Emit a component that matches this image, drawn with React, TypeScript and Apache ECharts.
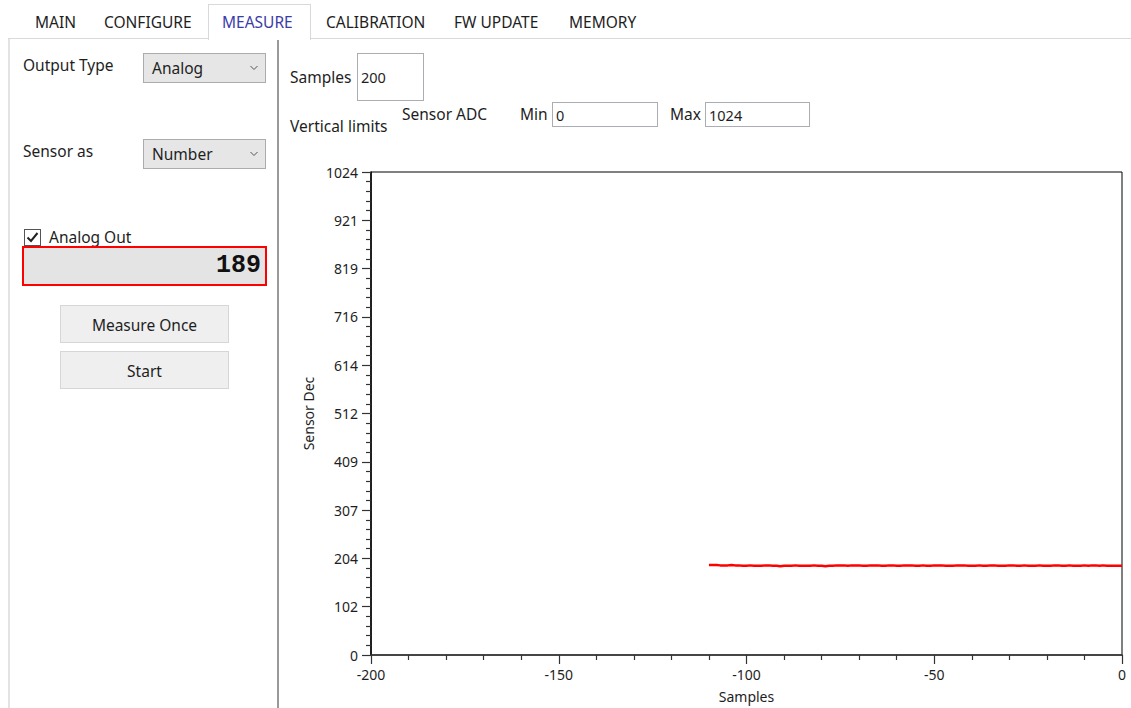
import React, { useEffect, useRef } from "react";
import * as echarts from "echarts";

// ---- data ----
const tabs = ["MAIN", "CONFIGURE", "MEASURE", "CALIBRATION", "FW UPDATE", "MEMORY"];
const activeTab = "MEASURE";
const xAxisMin = -200;
const xAxisMax = 0;
const xAxisStep = 50;
const yAxisMin = 0;
const yAxisMax = 1024;
const yAxisStep = 102.4;
const firstSample = -110;
const sensorValues = [
  191, 191, 191, 190, 190, 190, 191, 190, 190, 189,
  189, 190, 189, 189, 189, 190, 190, 189, 189, 188,
  189, 189, 189, 190, 189, 189, 189, 189, 190, 189,
  189, 188, 189, 189, 190, 190, 190, 189, 190, 190,
  190, 189, 189, 190, 190, 190, 189, 189, 190, 190,
  189, 189, 190, 190, 190, 189, 189, 190, 189, 189,
  190, 190, 190, 189, 189, 189, 190, 190, 190, 189,
  189, 189, 190, 189, 189, 190, 190, 189, 189, 189,
  190, 190, 189, 189, 190, 189, 189, 189, 190, 189,
  189, 189, 190, 190, 189, 189, 190, 189, 189, 189,
  190, 189, 190, 190, 189, 190, 189, 189, 189, 189, 189,
];
const currentValue = "189";
const samplesCount = "200";
const limitMin = "0";
const limitMax = "1024";

const FONT = "'Noto Sans', 'Open Sans', sans-serif";

const tabPos = [35, 104, 222, 326, 454, 569];

function Label(p: { x: number; y: number; text: string; size?: number; color?: string }) {
  return (
    <div
      style={{
        position: "absolute",
        left: p.x,
        top: p.y - 12,
        height: 24,
        lineHeight: "24px",
        fontSize: p.size ?? 15.5,
        color: p.color ?? "#1e1e1e",
        whiteSpace: "nowrap",
        fontFamily: FONT,
      }}
    >
      {p.text}
    </div>
  );
}

function Box(p: { x: number; y: number; w: number; h: number; style?: any; children?: any }) {
  return (
    <div
      style={{
        position: "absolute",
        left: p.x,
        top: p.y,
        width: p.w,
        height: p.h,
        boxSizing: "border-box",
        fontFamily: FONT,
        ...p.style,
      }}
    >
      {p.children}
    </div>
  );
}

function Combo(p: { x: number; y: number; text: string }) {
  return (
    <Box x={p.x} y={p.y} w={123} h={30} style={{ background: "#e6e6e6", border: "1px solid #acacac" }}>
      <div style={{ position: "absolute", left: 8, top: 2, lineHeight: "24px", fontSize: 15.5, color: "#1e1e1e" }}>{p.text}</div>
      <svg style={{ position: "absolute", right: 7, top: 11 }} width="8" height="6">
        <polyline points="0.5,1 4,4.5 7.5,1" fill="none" stroke="#555" strokeWidth="1" />
      </svg>
    </Box>
  );
}

function TextBox(p: { x: number; y: number; w: number; h: number; text: string }) {
  return (
    <Box x={p.x} y={p.y} w={p.w} h={p.h} style={{ background: "#fff", border: "1px solid #abadb3" }}>
      <div style={{ position: "absolute", left: 3, top: Math.round(p.h / 2) - 12 - 1, lineHeight: "24px", fontSize: 14.5, color: "#1e1e1e" }}>{p.text}</div>
    </Box>
  );
}

function Button(p: { x: number; y: number; text: string }) {
  return (
    <Box
      x={p.x}
      y={p.y}
      w={169}
      h={38}
      style={{ background: "#efefef", border: "1px solid #d6d6d6", textAlign: "center", lineHeight: "38px", fontSize: 15.5, color: "#1e1e1e" }}
    >
      {p.text}
    </Box>
  );
}

export default function App() {
  const ref = useRef<HTMLDivElement>(null);

  useEffect(() => {
    const chart = echarts.init(ref.current!, null, { renderer: "svg" });
    const data = sensorValues.map((v, i) => [firstSample + i, v]);
    chart.setOption({
      animation: false,
      backgroundColor: "transparent",
      grid: {
        left: 371,
        top: 172,
        right: 9,
        bottom: 53,
        show: true,
        borderColor: "#000",
        borderWidth: 1,
        backgroundColor: "#fff",
      },
      xAxis: {
        type: "value",
        min: xAxisMin,
        max: xAxisMax,
        interval: xAxisStep,
        name: "Samples",
        nameLocation: "middle",
        nameGap: 34,
        nameTextStyle: { fontFamily: FONT, fontSize: 14, color: "#1e1e1e" },
        axisLine: { show: true, onZero: false, lineStyle: { color: "#333", width: 1.5 } },
        axisTick: { show: true, length: 9, lineStyle: { color: "#333", width: 1.2 } },
        minorTick: { show: true, splitNumber: 5, length: 5, lineStyle: { color: "#333", width: 1.2 } },
        axisLabel: { fontFamily: FONT, fontSize: 14, color: "#1e1e1e", margin: 12 },
        splitLine: { show: false },
      },
      yAxis: {
        type: "value",
        min: yAxisMin,
        max: yAxisMax,
        interval: yAxisStep,
        name: "Sensor Dec",
        nameLocation: "middle",
        nameGap: 43,
        nameTextStyle: { fontFamily: FONT, fontSize: 14, color: "#1e1e1e" },
        axisLine: { show: true, onZero: false, lineStyle: { color: "#000", width: 1.5 } },
        axisTick: { show: true, length: 9, lineStyle: { color: "#333", width: 1.2 } },
        minorTick: { show: true, splitNumber: 5, length: 5, lineStyle: { color: "#333", width: 1.2 } },
        axisLabel: {
          fontFamily: FONT,
          fontSize: 14,
          color: "#1e1e1e",
          margin: 13,
          formatter: (v: number) => String(Math.floor(v + 1e-6)),
        },
        splitLine: { show: false },
      },
      series: [
        {
          type: "line",
          data,
          showSymbol: false,
          symbol: "none",
          lineStyle: { color: "#ff0000", width: 2.5 },
        },
      ],
    });
    return () => chart.dispose();
  }, []);

  return (
    <div style={{ position: "fixed", left: 0, top: 0, width: 1131, height: 708, background: "#fff", overflow: "hidden", fontFamily: FONT }}>
      <div ref={ref} style={{ position: "absolute", left: 0, top: 0, width: 1131, height: 708 }} />
      {/* tab strip */}
      <div style={{ position: "absolute", left: 8, top: 38, width: 1123, height: 1, background: "#dadada" }} />
      <div style={{ position: "absolute", left: 208, top: 4, width: 103, height: 36, boxSizing: "border-box", background: "#fff", borderTop: "1px solid #d9d9d9", borderLeft: "1px solid #d9d9d9", borderRight: "1px solid #d9d9d9" }} />
      {tabs.map((t, i) => (
        <Label key={t} x={tabPos[i]} y={22} text={t} size={15.5} color={t === activeTab ? "#3c3ca8" : "#1e1e1e"} />
      ))}
      {/* left panel borders */}
      <div style={{ position: "absolute", left: 8, top: 39, width: 2, height: 669, background: "#e3e3e3" }} />
      <div style={{ position: "absolute", left: 277, top: 40, width: 2, height: 668, background: "#9a9a9a" }} />
      {/* left panel */}
      <Label x={23} y={65} text="Output Type" />
      <Combo x={143} y={53} text="Analog" />
      <Label x={23} y={151} text="Sensor as" />
      <Combo x={143} y={139} text="Number" />
      <Box x={24} y={229} w={17} h={17} style={{ background: "#fff", border: "1px solid #555" }}>
        <svg width="15" height="15" style={{ position: "absolute", left: 0, top: 0 }}>
          <polyline points="2.5,7.5 6,11 12.5,3" fill="none" stroke="#222" strokeWidth="2" />
        </svg>
      </Box>
      <Label x={49} y={237} text="Analog Out" />
      <Box x={22} y={246} w={245} h={40} style={{ background: "#e4e4e4", border: "2px solid #ff0000" }}>
        <div style={{ position: "absolute", right: 4, top: 3, lineHeight: "30px", fontSize: 25, fontWeight: "bold", fontFamily: "'Liberation Mono', 'DejaVu Sans Mono', monospace", color: "#111" }}>
          {currentValue}
        </div>
      </Box>
      <Button x={60} y={305} text="Measure Once" />
      <Button x={60} y={351} text="Start" />
      {/* right panel header */}
      <Label x={290} y={77} text="Samples" />
      <TextBox x={357} y={53} w={67} h={48} text={samplesCount} />
      <Label x={290} y={126} text="Vertical limits" />
      <Label x={402} y={114} text="Sensor ADC" />
      <Label x={520} y={114} text="Min" />
      <TextBox x={552} y={102} w={106} h={25} text={limitMin} />
      <Label x={670} y={114} text="Max" />
      <TextBox x={705} y={102} w={105} h={25} text={limitMax} />
    </div>
  );
}
